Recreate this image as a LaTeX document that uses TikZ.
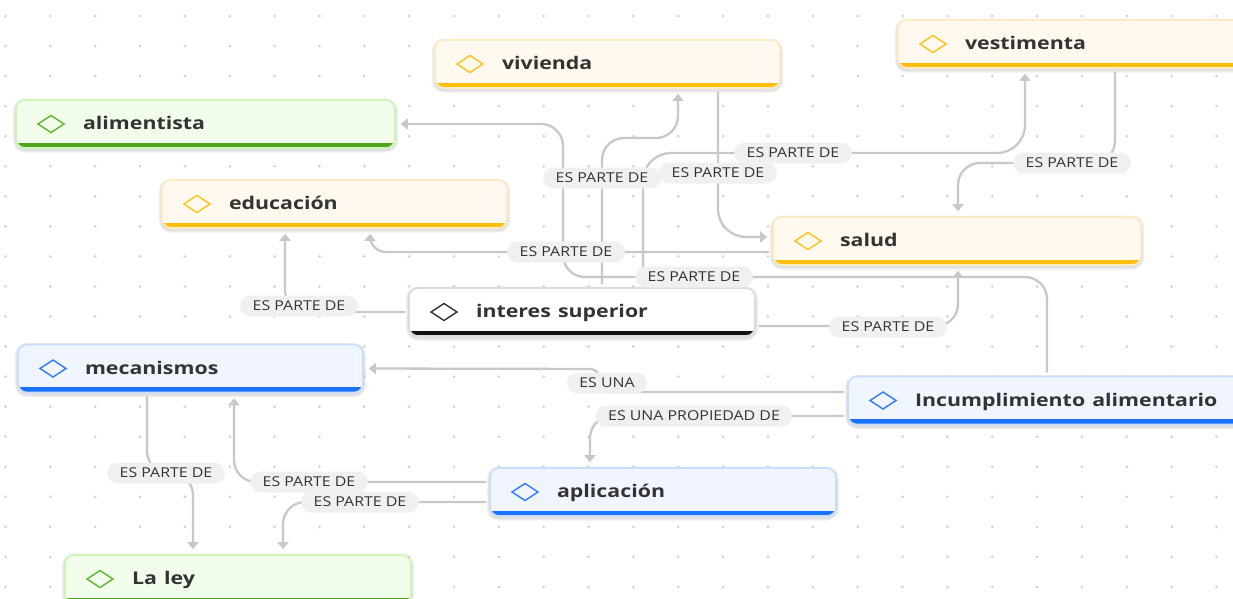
\documentclass[tikz,border=0pt]{standalone}
\usepackage{fontspec}
\setmainfont{Open Sans}
\usepackage{graphicx}
\usetikzlibrary{arrows.meta}

\definecolor{txt}{HTML}{333333}
\definecolor{linec}{HTML}{C8C8C8}
\definecolor{pillc}{HTML}{F0F0F0}
\definecolor{dotc}{HTML}{D2D2D2}
\definecolor{ofill}{HTML}{FFF9F0}
\definecolor{oborder}{HTML}{FFEBC2}
\definecolor{obar}{HTML}{FFBF0F}
\definecolor{oicon}{HTML}{FFC21A}
\definecolor{gfill}{HTML}{F2FDEC}
\definecolor{gborder}{HTML}{CDF5B6}
\definecolor{gbar}{HTML}{4FA61C}
\definecolor{gicon}{HTML}{5CB92E}
\definecolor{bfill}{HTML}{F0F5FF}
\definecolor{bborder}{HTML}{C9DDFF}
\definecolor{bbar}{HTML}{1A73FF}
\definecolor{bicon}{HTML}{2F7CFF}
\definecolor{kfill}{HTML}{FFFFFF}
\definecolor{kborder}{HTML}{DCDCDC}
\definecolor{kbar}{HTML}{111111}
\definecolor{kicon}{HTML}{333333}

\newcommand{\nsc}[1]{\hspace*{67pt}\scalebox{1.22}[1]{#1}}
\newcommand{\lsc}[1]{\scalebox{1.17}[1]{#1}}

\pgfdeclarelayer{bglayer}
\pgfdeclarelayer{dotlayer}
\pgfdeclarelayer{linelayer}
\pgfsetlayers{bglayer,dotlayer,linelayer,main}

\tikzset{
  mbox/.style n args={4}{rectangle, rounded corners=9pt, fill=#1, draw=#2,
    line width=1.6pt, minimum height=48pt, inner sep=0pt,
    text height=14pt, text depth=3pt, align=left, text=txt,
    font=\fontsize{17.5}{20}\selectfont\bfseries,
    preaction={draw=black, draw opacity=0.06, line width=6pt,
      transform canvas={yshift=-1.5pt}},
    preaction={draw=black, draw opacity=0.06, line width=3.5pt,
      transform canvas={yshift=-1.5pt}},
    path picture={
      \fill[#3, sharp corners] ([yshift=-1pt]path picture bounding box.south west)
        rectangle ([yshift=5.5pt]path picture bounding box.south east);
      \draw[#4, line width=1.4pt, sharp corners]
        ([xshift=35pt]path picture bounding box.west)
        +(-13pt,0pt) -- +(0pt,8.5pt) -- +(13pt,0pt) -- +(0pt,-8.5pt) -- cycle;}},
  bw/.style={text width=#1},
  obox/.style={mbox={ofill}{oborder}{obar}{oicon}},
  gbox/.style={mbox={gfill}{gborder}{gbar}{gicon}},
  bbox/.style={mbox={bfill}{bborder}{bbar}{bicon}},
  kbox/.style={mbox={kfill}{kborder}{kbar}{kicon}},
  pill/.style={fill=pillc, rounded corners=10.5pt, minimum height=21pt,
    inner xsep=12.5pt, inner ysep=0pt, text height=9.8pt, text depth=0pt,
    text=txt, font=\fontsize{13.6}{15}\selectfont},
  conn/.style={draw=linec, line width=2.3pt, rounded corners=#1,
    -{Triangle[length=7pt,width=11pt]}, shorten >=5pt, shorten <=3pt},
  conn/.default=22pt
}

\begin{document}
\begin{tikzpicture}[x=1pt,y=-1pt]
\useasboundingbox (0,0) rectangle (1233,598);
\clip (0,0) rectangle (1233,598);

\begin{pgfonlayer}{bglayer}
\fill[white] (0,0) rectangle (1233,598);
\end{pgfonlayer}

\begin{pgfonlayer}{dotlayer}
\foreach \i in {0,...,27}{
  \foreach \j in {0,...,19}{
    \fill[dotc] (5.5+44.85*\i, 16+30.05*\j) circle (1.5pt);
  }
}
\end{pgfonlayer}

% concept boxes
\node[obox, bw=345pt] (viv) at (607.5,64) {\nsc{vivienda}};
\node[obox, bw=360pt] (vest) at (1078,44) {\nsc{vestimenta}};
\node[gbox, bw=379pt] (alim) at (205.5,124) {\nsc{alimentista}};
\node[obox, bw=345pt] (edu) at (334.5,204) {\nsc{educación}};
\node[obox, bw=368pt] (sal) at (957,241) {\nsc{salud}};
\node[kbox, bw=346pt] (int) at (582,312) {\nsc{interes superior}};
\node[bbox, bw=345pt] (mec) at (190.5,368.5) {\nsc{mecanismos}};
\node[bbox, bw=400pt] (inc) at (1048,400.5) {\nsc{Incumplimiento alimentario}};
\node[bbox, bw=346pt] (apl) at (663,492) {\nsc{aplicación}};
\node[gbox, bw=346pt] (ley) at (238,579) {\nsc{La ley}};

% link labels
\node[pill] (l1) at (602,178) {\lsc{ES PARTE DE}};
\node[pill] (l2) at (718,173) {\lsc{ES PARTE DE}};
\node[pill] (l3) at (793,153) {\lsc{ES PARTE DE}};
\node[pill] (l4) at (1072,163) {\lsc{ES PARTE DE}};
\node[pill] (l5) at (566,252) {\lsc{ES PARTE DE}};
\node[pill] (l6) at (694,277) {\lsc{ES PARTE DE}};
\node[pill] (l7) at (299,306) {\lsc{ES PARTE DE}};
\node[pill] (l8) at (888,327) {\lsc{ES PARTE DE}};
\node[pill] (l9) at (607,383) {\lsc{ES UNA}};
\node[pill] (l10) at (694,416) {\lsc{ES UNA PROPIEDAD DE}};
\node[pill] (l11) at (166,473) {\lsc{ES PARTE DE}};
\node[pill] (l12) at (309,482) {\lsc{ES PARTE DE}};
\node[pill] (l13) at (360,502) {\lsc{ES PARTE DE}};

\begin{pgfonlayer}{linelayer}
\draw[conn] (inc.north -| 1047,0) -- (1047,277) -- (563,277) -- (563,124) -- (alim.east);
\draw[conn] (int.north -| 602,0) -- (602,138) -- (678,138) -- (viv.south -| 678,0);
\draw[conn=28pt] (int.north -| 643,0) -- (643,153) -- (1025,153) -- (vest.south -| 1025,0);
\draw[conn=28pt] (viv.south -| 718,0) -- (718,237) -- (sal.west |- 0,237);
\draw[conn] (vest.south -| 1115,0) -- (1115,163) -- (958,163) -- (sal.north -| 958,0);
\draw[conn=16pt] (sal.west |- 0,252) -- (370,252) -- (edu.south -| 370,0);
\draw[conn] (int.west) -- (285,312) -- (edu.south -| 285,0);
\draw[conn] (int.east |- 0,326) -- (958,326) -- (sal.south -| 958,0);
\draw[conn=10pt] (inc.west |- 0,392) -- (600,392) -- (600,369) -- (mec.east);
\draw[conn] (inc.west |- 0,416) -- (590,416) -- (apl.north -| 590,0);
\draw[conn] (apl.west |- 0,482) -- (234,482) -- (mec.south -| 234,0);
\draw[conn] (apl.west |- 0,502) -- (283,502) -- (ley.north -| 283,0);
\draw[conn] (mec.south -| 147,0) -- (147,473) -- (193,473) -- (ley.north -| 193,0);
\end{pgfonlayer}
\end{tikzpicture}
\end{document}
